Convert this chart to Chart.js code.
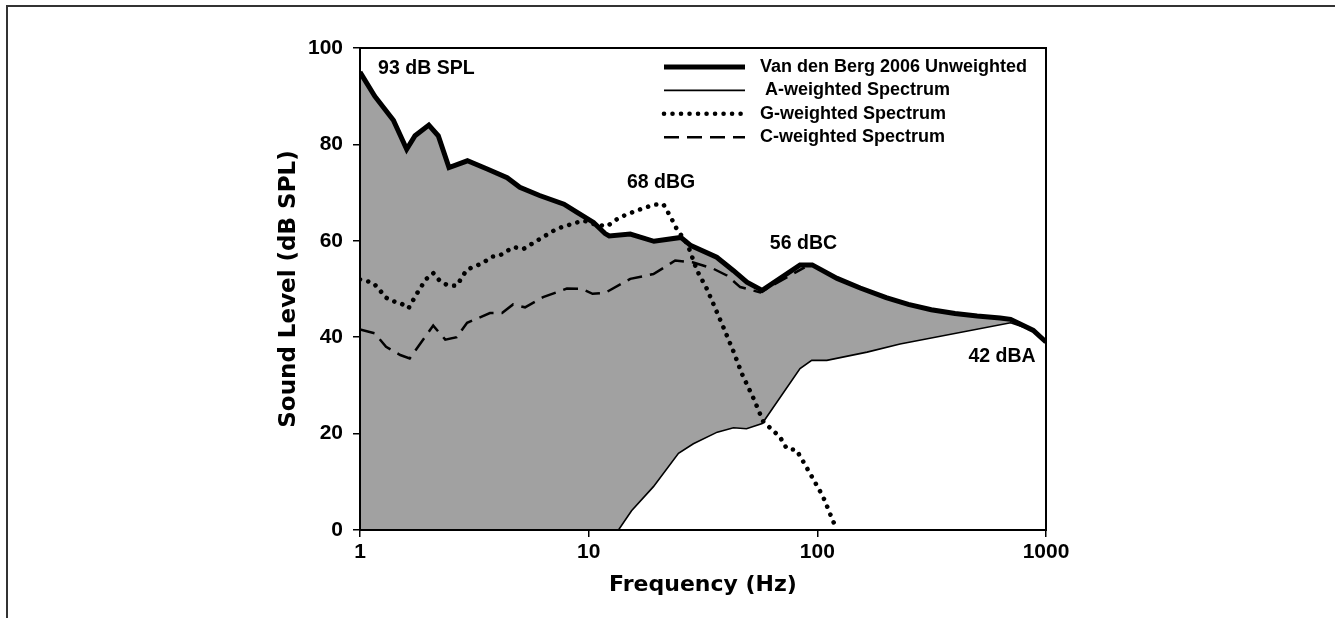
<!DOCTYPE html>
<html>
<head>
<meta charset="utf-8">
<title>Sound level spectrum</title>
<script src="https://cdn.jsdelivr.net/npm/chart.js@4.4.1/dist/chart.umd.min.js"></script>
<style>
  html, body { margin: 0; padding: 0; background: #fff; }
  #wrap { position: relative; width: 1335px; height: 618px; overflow: hidden; }
  #frame { position: absolute; left: 6px; top: 5px; right: 0; bottom: 0; border-top: 2px solid #333; border-left: 2px solid #333; }
  canvas { position: absolute; left: 0; top: 0; }
</style>
</head>
<body>
<div id="wrap">
  <div id="frame"></div>
  <canvas id="chart" width="1335" height="618"></canvas>
</div>
<script>
// Values (frequency in Hz, level in dB SPL)
const unweightedFreq  = [1, 1.16, 1.4, 1.6, 1.74, 2, 2.2, 2.45, 2.95, 3.6, 4.4, 5, 6.1, 7.8, 8.9, 10.5, 11.8, 12.3, 15.2, 19.3, 25.3, 28, 36.3, 43, 49.2, 57.4, 84, 95, 122, 154, 200, 250, 315, 400, 500, 630, 700, 880, 1000];
const unweightedLevel = [95, 90, 85, 79, 81.8, 84, 81.8, 75.2, 76.6, 74.9, 73.1, 71.1, 69.4, 67.6, 65.9, 63.8, 61.5, 61, 61.4, 59.9, 60.7, 59, 56.6, 53.8, 51.4, 49.7, 55, 55, 52.2, 50.2, 48.2, 46.8, 45.7, 44.9, 44.4, 44, 43.7, 41.4, 39];

const aFreq  = [1, 13.5, 15.4, 19.2, 24.7, 28.7, 36.5, 43, 49, 57.4, 84, 94.5, 110, 165, 230, 700, 880, 1000];
const aLevel = [0, 0, 4, 9, 15.9, 17.9, 20.3, 21.2, 21, 22.1, 33.5, 35.2, 35.2, 36.9, 38.6, 43, 41.4, 39];

const gFreq  = [1, 1.14, 1.21, 1.29, 1.38, 1.5, 1.63, 1.76, 1.94, 2.09, 2.25, 2.44, 2.65, 2.93, 3.19, 3.47, 3.77, 4.07, 4.69, 5.18, 6.13, 7.26, 8.58, 9.5, 10.5, 12, 13.7, 16.3, 19.3, 21.2, 22.8, 24.3, 27, 29.8, 32.9, 38.8, 43, 46.8, 52.6, 58, 68.6, 73.5, 81, 87, 96.4, 106, 118];
const gLevel = [52, 51.3, 50, 48.3, 47.5, 47.1, 46, 48.8, 52, 53.3, 51.5, 50.7, 50.7, 54, 54.7, 55.5, 56.7, 56.9, 58.7, 58.3, 60.4, 62.5, 63.6, 64.2, 63.5, 63, 64.9, 66.3, 67.5, 67.6, 65, 62.4, 59.4, 53.8, 50, 42.1, 37, 32.4, 27.3, 22.5, 19.3, 16.9, 16.6, 14.1, 10.4, 6.9, 1.5];

const cFreq  = [1, 1.16, 1.3, 1.5, 1.65, 2.09, 2.36, 2.65, 2.94, 3.7, 4.18, 4.67, 5.27, 6.32, 8.03, 9.35, 10.4, 11.8, 15.2, 19.2, 23.9, 28.7, 35.1, 40.2, 46, 56.3, 73.5, 88];
const cLevel = [41.6, 40.8, 38, 36.3, 35.6, 42.4, 39.5, 40, 43, 45, 45, 46.8, 46.2, 48.3, 50.1, 50, 49, 49.2, 52.1, 53.1, 55.9, 55.5, 54.2, 52.8, 50.4, 49.3, 52.4, 54.5];

const seriesLabels = ['Van den Berg 2006 Unweighted', ' A-weighted Spectrum', 'G-weighted Spectrum', 'C-weighted Spectrum'];
const xTickValues = [1, 10, 100, 1000];

const toPoints = (xs, ys) => xs.map((x, i) => ({ x, y: ys[i] }));

const BOLD = '"Liberation Sans", Arial, sans-serif';

// text notes placed in data coordinates (left edge, vertical middle)
const notes = [
  { text: '93 dB SPL', f: 1.2,  v: 95.7 },
  { text: '68 dBG',    f: 14.7, v: 72 },
  { text: '56 dBC',    f: 62,   v: 59.4 },
  { text: '42 dBA',    f: 458,  v: 36 }
];

// box around the plot area
const boxPlugin = {
  id: 'plotBox',
  afterDatasetsDraw(chart) {
    const a = chart.chartArea;
    const ctx = chart.ctx;
    ctx.save();
    ctx.strokeStyle = '#000';
    ctx.lineWidth = 2;
    ctx.strokeRect(a.left, a.top, a.right - a.left, a.bottom - a.top);
    ctx.restore();
  }
};

// legend drawn inside the plot, top right
const legendPlugin = {
  id: 'insideLegend',
  afterDraw(chart) {
    const a = chart.chartArea;
    const ctx = chart.ctx;
    ctx.save();
    ctx.font = 'bold 18px ' + BOLD;
    ctx.textBaseline = 'middle';
    ctx.fillStyle = '#000';
    chart.data.datasets.forEach((ds, i) => {
      const rowY = a.top + 19 + i * 23.4;
      ctx.beginPath();
      ctx.strokeStyle = '#000';
      ctx.lineWidth = ds.borderWidth;
      ctx.lineCap = ds.borderCapStyle || 'butt';
      ctx.setLineDash(ds.borderDash || []);
      ctx.moveTo(a.left + 304, rowY);
      ctx.lineTo(a.left + 385, rowY);
      ctx.stroke();
      ctx.setLineDash([]);
      ctx.fillText(ds.label, a.left + 400, rowY);
    });
    ctx.restore();
  }
};

const notesPlugin = {
  id: 'notes',
  afterDraw(chart) {
    const ctx = chart.ctx;
    const xs = chart.scales.x, ys = chart.scales.y;
    ctx.save();
    ctx.font = 'bold 19.5px ' + BOLD;
    ctx.textBaseline = 'middle';
    ctx.textAlign = 'left';
    ctx.fillStyle = '#000';
    notes.forEach(n => {
      ctx.fillText(n.text, xs.getPixelForValue(n.f), ys.getPixelForValue(n.v));
    });
    ctx.restore();
  }
};

new Chart(document.getElementById('chart'), {
  type: 'line',
  data: {
    datasets: [
      {
        label: seriesLabels[0],
        data: toPoints(unweightedFreq, unweightedLevel),
        borderColor: '#000',
        borderWidth: 5,
        backgroundColor: '#a1a1a1',
        fill: 1,
        order: 0
      },
      {
        label: seriesLabels[1],
        data: toPoints(aFreq, aLevel),
        borderColor: '#000',
        borderWidth: 1.6,
        fill: false,
        order: 1
      },
      {
        label: seriesLabels[2],
        data: toPoints(gFreq, gLevel),
        borderColor: '#000',
        borderWidth: 4.6,
        borderDash: [0.01, 8.5],
        borderCapStyle: 'round',
        fill: false,
        order: 1
      },
      {
        label: seriesLabels[3],
        data: toPoints(cFreq, cLevel),
        borderColor: '#000',
        borderWidth: 2.5,
        borderDash: [15, 8],
        fill: false,
        order: 1
      }
    ]
  },
  options: {
    responsive: false,
    animation: false,
    layout: { padding: { left: 275, right: 289, top: 48, bottom: 20 } },
    elements: { point: { radius: 0 }, line: { tension: 0 } },
    plugins: {
      legend: { display: false },
      tooltip: { enabled: false },
      filler: { drawTime: 'beforeDatasetsDraw' }
    },
    scales: {
      x: {
        type: 'logarithmic',
        min: 1,
        max: 1000,
        afterBuildTicks: s => { s.ticks = xTickValues.map(v => ({ value: v })); },
        afterFit: s => { s.height = 68; },
        ticks: {
          autoSkip: false,
          maxRotation: 0,
          padding: 3,
          color: '#000',
          font: { family: BOLD, size: 21, weight: 'bold' },
          callback: v => String(v)
        },
        grid: { drawOnChartArea: false, drawTicks: true, tickLength: 7, color: '#000', lineWidth: 1.5 },
        border: { display: true, color: '#000', width: 2 },
        title: {
          display: true,
          text: 'Frequency (Hz)',
          color: '#000',
          padding: 0,
          font: { family: '"DejaVu Sans", Verdana, sans-serif', size: 22, weight: 'bold', lineHeight: 1.2 }
        }
      },
      y: {
        min: 0,
        max: 100,
        afterFit: s => { s.width = 85; },
        ticks: {
          stepSize: 20,
          padding: 10,
          color: '#000',
          font: { family: BOLD, size: 21, weight: 'bold' }
        },
        grid: { drawOnChartArea: false, drawTicks: true, tickLength: 7, color: '#000', lineWidth: 1.5 },
        border: { display: true, color: '#000', width: 2 },
        title: {
          display: true,
          text: 'Sound Level (dB SPL)',
          color: '#000',
          padding: 0,
          font: { family: '"DejaVu Sans", Verdana, sans-serif', size: 23, weight: 'bold', lineHeight: 1.2 }
        }
      }
    }
  },
  plugins: [boxPlugin, legendPlugin, notesPlugin]
});
</script>
</body>
</html>
